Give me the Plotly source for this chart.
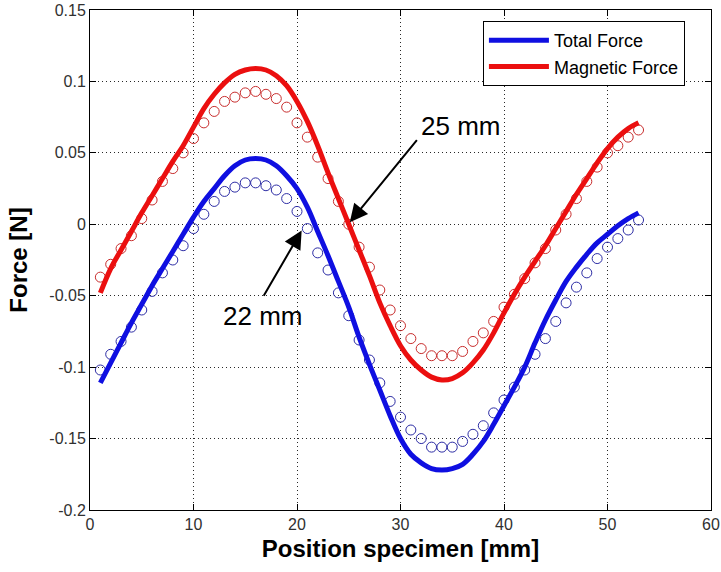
import plotly.graph_objects as go

positions = list(range(1, 54))

total_measured = [-0.102, -0.091, -0.082, -0.072, -0.060, -0.047, -0.034, -0.025, -0.015, -0.003,
                  0.007, 0.016, 0.023, 0.026, 0.029, 0.029, 0.027, 0.024, 0.018, 0.009,
                  -0.003, -0.020, -0.032, -0.048, -0.064, -0.081, -0.095, -0.111, -0.124, -0.135,
                  -0.144, -0.150, -0.156, -0.156, -0.156, -0.152, -0.147, -0.141, -0.132, -0.123,
                  -0.114, -0.102, -0.091, -0.080, -0.068, -0.055, -0.044, -0.034, -0.024, -0.016,
                  -0.010, -0.004, 0.003]

magnetic_measured = [-0.037, -0.028, -0.017, -0.008, 0.004, 0.017, 0.030, 0.039, 0.050, 0.060,
                     0.071, 0.079, 0.086, 0.089, 0.092, 0.093, 0.091, 0.088, 0.082, 0.071,
                     0.061, 0.047, 0.032, 0.016, 0.000, -0.016, -0.030, -0.046, -0.060, -0.071,
                     -0.080, -0.087, -0.092, -0.092, -0.092, -0.089, -0.082, -0.076, -0.068, -0.058,
                     -0.049, -0.038, -0.027, -0.017, -0.004, 0.007, 0.018, 0.030, 0.040, 0.050,
                     0.055, 0.061, 0.066]

total_model = [-0.111, -0.097, -0.083, -0.069, -0.056, -0.043, -0.031, -0.019, -0.007, 0.005,
               0.016, 0.025, 0.034, 0.041, 0.045, 0.046, 0.045, 0.041, 0.034, 0.025,
               0.012, -0.005, -0.022, -0.040, -0.058, -0.079, -0.098, -0.116, -0.134, -0.150,
               -0.161, -0.167, -0.171, -0.172, -0.171, -0.168, -0.161, -0.152, -0.140, -0.127,
               -0.114, -0.100, -0.083, -0.067, -0.053, -0.040, -0.030, -0.021, -0.013, -0.007,
               -0.001, 0.004, 0.008]

magnetic_model = [-0.048, -0.031, -0.018, -0.005, 0.008, 0.020, 0.032, 0.044, 0.055, 0.068,
                  0.081, 0.091, 0.099, 0.105, 0.108, 0.109, 0.108, 0.104, 0.097, 0.086,
                  0.072, 0.055, 0.036, 0.018, 0.000, -0.018, -0.036, -0.055, -0.071, -0.085,
                  -0.095, -0.102, -0.107, -0.109, -0.108, -0.104, -0.097, -0.088, -0.076, -0.062,
                  -0.049, -0.037, -0.026, -0.015, -0.003, 0.009, 0.021, 0.032, 0.043, 0.053,
                  0.061, 0.067, 0.071]

x_ticks = [0, 10, 20, 30, 40, 50, 60]
y_ticks = [-0.2, -0.15, -0.1, -0.05, 0, 0.05, 0.1, 0.15]
y_tick_labels = ["-0.2", "-0.15", "-0.1", "-0.05", "0", "0.05", "0.1", "0.15"]

BLUE = "rgb(15,15,225)"
RED = "rgb(235,15,15)"
BLUE_M = "rgb(45,45,165)"
RED_M = "rgb(200,45,45)"
FONT = "Liberation Sans, Arial, sans-serif"

fig = go.Figure()
fig.add_trace(go.Scatter(x=positions, y=total_measured, mode="markers", showlegend=False,
                         marker=dict(symbol="circle-open", size=10, color=BLUE_M, line=dict(width=1))))
fig.add_trace(go.Scatter(x=positions, y=magnetic_measured, mode="markers", showlegend=False,
                         marker=dict(symbol="circle-open", size=10, color=RED_M, line=dict(width=1))))
fig.add_trace(go.Scatter(x=positions, y=total_model, mode="lines", name="Total Force",
                         line=dict(color=BLUE, width=5, shape="spline", smoothing=1.0)))
fig.add_trace(go.Scatter(x=positions, y=magnetic_model, mode="lines", name="Magnetic Force",
                         line=dict(color=RED, width=5, shape="spline", smoothing=1.0)))

# arrows
fig.add_annotation(x=25.1, y=0.0014, ax=31.7, ay=0.060, axref="x", ayref="y", xref="x", yref="y",
                   text="", showarrow=True, arrowhead=2, arrowsize=1.8, arrowwidth=2, arrowcolor="black")
fig.add_annotation(x=20.45, y=-0.0044, ax=16.7, ay=-0.051, axref="x", ayref="y", xref="x", yref="y",
                   text="", showarrow=True, arrowhead=2, arrowsize=1.8, arrowwidth=2, arrowcolor="black")
fig.add_annotation(x=35.75, y=0.069, xref="x", yref="y", text="25 mm", showarrow=False,
                   font=dict(family=FONT, size=26, color="black"))
fig.add_annotation(x=16.67, y=-0.064, xref="x", yref="y", text="22 mm", showarrow=False,
                   font=dict(family=FONT, size=26, color="black"))

axis_common = dict(showline=True, linecolor="black", linewidth=1, mirror="ticks",
                   ticks="inside", ticklen=6, tickcolor="black", tickwidth=1,
                   showgrid=True, gridcolor="rgb(40,40,40)", gridwidth=1, griddash="1px,3px",
                   zeroline=False, tickfont=dict(family=FONT, size=16, color="#303030"))

fig.update_xaxes(range=[0, 60], tickvals=x_ticks, ticktext=[str(v) for v in x_ticks],
                 title=dict(text="<b>Position specimen [mm]</b>", font=dict(family=FONT, size=24, color="black"),
                            standoff=7),
                 **axis_common)
fig.update_yaxes(range=[-0.2, 0.15], tickvals=y_ticks, ticktext=y_tick_labels,
                 title=dict(text="<b>Force [N]</b>", font=dict(family=FONT, size=24, color="black"),
                            standoff=14),
                 **axis_common)

fig.update_layout(width=721, height=572, margin=dict(l=90, r=10, t=10, b=62, autoexpand=False),
                  plot_bgcolor="white", paper_bgcolor="white",
                  legend=dict(x=0.958, y=0.978, xanchor="right", yanchor="top",
                              bordercolor="black", borderwidth=1, bgcolor="white",
                              itemwidth=60, tracegroupgap=0,
                              font=dict(family=FONT, size=18, color="black")))

fig.write_html("out.html", config={"displayModeBar": False},
               post_script="document.body.style.margin='0';document.body.style.overflow='hidden';")
